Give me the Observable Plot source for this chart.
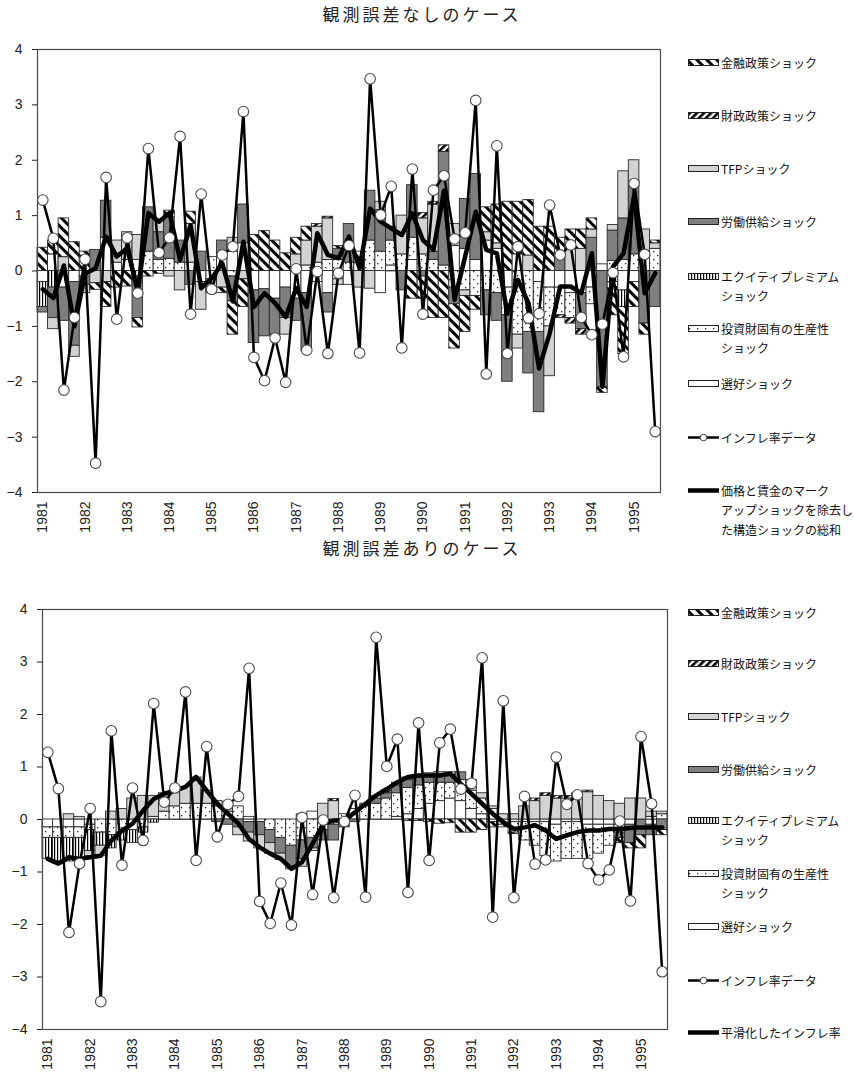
<!DOCTYPE html>
<html><head><meta charset="utf-8">
<script src="https://cdn.jsdelivr.net/npm/d3@7"></script>
<script src="https://cdn.jsdelivr.net/npm/@observablehq/plot@0.6"></script>
<style>
body{margin:0;background:#fff;}
#root{position:relative;width:854px;height:1078px;overflow:hidden;}
.title{position:absolute;left:0;width:844px;text-align:center;font-family:"Noto Sans CJK JP";font-size:17px;line-height:24px;letter-spacing:3px;color:#222;}
.plotbox{position:absolute;left:0;}
.item{position:absolute;left:688px;display:flex;align-items:flex-start;font-family:"Noto Sans CJK JP";font-size:12px;line-height:19.5px;color:#111;white-space:nowrap;}
.item svg{flex:none;margin-right:1px;}
</style></head><body>
<svg width="0" height="0" style="position:absolute">
<defs>
<pattern id="pMon" width="7" height="7" patternUnits="userSpaceOnUse" patternTransform="rotate(-45)"><rect width="7" height="7" fill="white"/><rect width="3" height="7" fill="black"/></pattern>
<pattern id="pFis" width="5" height="5" patternUnits="userSpaceOnUse" patternTransform="rotate(45)"><rect width="5" height="5" fill="white"/><rect width="2.6" height="5" fill="black"/></pattern>
<pattern id="pEq" width="3" height="3" patternUnits="userSpaceOnUse"><rect width="3" height="3" fill="white"/><rect width="1.2" height="3" fill="black"/></pattern>
<pattern id="pInv" width="8" height="8" patternUnits="userSpaceOnUse"><rect width="8" height="8" fill="white"/><rect x="1" y="1" width="1.3" height="1.3" fill="#222"/><rect x="5" y="5" width="1.3" height="1.3" fill="#222"/></pattern>
</defs></svg>
<div id="root"></div>
<script>
// ---- categories / tick labels ----
const years = [1981,1982,1983,1984,1985,1986,1987,1988,1989,1990,1991,1992,1993,1994,1995];
const quarters = [];
for (const y of years) for (const q of [1,2,3,4]) quarters.push(y + "Q" + q);
quarters.splice(59); // 1981Q1 .. 1995Q3

// ---- shared series: inflation data ----
const inflation = [1.28,0.59,-2.15,-0.84,0.21,-3.47,1.69,-0.87,0.60,-0.40,
 2.21,0.33,0.60,2.43,-0.78,1.39,-0.33,0.29,0.44,2.88,
 -1.56,-1.98,-1.21,-2.01,0.04,-1.43,-0.01,-1.49,-0.04,0.46,
 -1.48,3.47,1.01,1.53,-1.39,1.84,-0.78,1.46,1.72,0.58,
 0.69,3.08,-1.86,2.26,-1.49,0.44,-0.85,-0.77,1.19,0.29,
 0.47,-0.84,-1.15,-0.96,-0.03,-1.55,1.58,0.30,-2.90];

// ---- panel A: no measurement error ----
const prefA = [-0.2,0.3,-0.3,-0.2,-0.1,0,0.6,0.15,0.2,0.2,
 0,0,0,0,0.15,-0.2,-0.15,0.3,0.35,0.5,
 -0.35,-0.33,-0.5,-0.3,-0.5,-0.4,-0.2,-0.4,-0.15,-0.25,
 0,0,-0.4,0.1,0,0.2,0,0,0,0.45,
 0.4,0.2,0.55,0.4,-0.3,0.3,0,-0.2,-0.3,-0.3,
 -0.4,-0.4,-0.3,0.12,0,-0.35,-0.2,0,0];
const investA = [0,0,0,0,0,0,0,0,0,0,
 0.35,0.2,0.22,0.15,0,0,0.25,0,-0.1,0,
 0,0,0,0,0,0.1,0.15,0.2,0.2,0.15,
 0.15,0.55,0.35,0.45,0.3,0.4,0.3,0.2,0.1,-0.3,
 -0.35,-0.45,-0.35,-0.4,-0.5,-1.15,-1.1,-0.9,-0.7,-0.5,
 -0.45,0,-0.3,0,0.18,0.2,0.3,0.35,0.4];
const equityA = [-0.45,-0.3,0,0,0,0,0,0,0,-0.1,
 0,0,0,0,0,0,0,0,0,0,
 0,0,0,0,0,0,0,0,0,0,
 0,0,0,0,0,0,0,0,0,0,
 0,0,0,0,0,0,0,0,0,0,
 0,0,0,0,-0.2,-0.3,0,0,0];
const laborA = [-0.1,-0.55,-0.6,-1.15,-0.15,0.38,0.67,0,0,-0.75,
 0.8,0.5,0.75,0.4,-0.25,0.35,0,0.25,-0.45,0.7,
 -0.95,-0.85,-0.65,-0.55,-0.4,-1.05,0,-0.35,0.2,0.7,
 0,0.9,0.75,0.25,-0.35,0.95,-0.1,0.15,2.05,-0.3,
 0.9,1.55,-0.45,-0.5,-1.2,0,-0.75,-1.45,0,0.3,
 0,-0.65,0.6,-2.1,0.55,0.75,1.3,-0.95,-0.65];
const tfpA = [0,-0.2,0.25,-0.2,-0.15,-0.22,-0.2,0.4,0.5,0.45,
 0,0.22,-0.1,-0.35,0.7,-0.5,-0.25,-0.3,0.25,-0.15,
 0,0,0,-0.3,0.3,0.45,0.65,0.75,-0.1,0,
 -0.3,-0.32,0.15,0,0.7,0,0.65,0.85,0,0.4,
 -0.1,0,0.15,0.1,0,-0.25,0.28,0,-0.9,0,
 0.4,0.4,0.15,0,0.1,0.85,0.4,0.4,0.1];
const fiscalA = [0,0,0,0,0,0,0,0,0,0,
 0,0,0,0,0,0,0,0,0,0,
 0,0,0,0,0,0,0.05,0.03,0,0,
 0,0,0,0,0,0,0.1,0.05,0.12,0,
 0,0,0,0,0,0,0,0,0,-0.05,
 -0.1,-0.1,0,0,0,0,0,0,0];
const monetaryA = [0.42,0.25,0.7,0.52,0.35,-0.12,-0.45,-0.3,-0.28,-0.17,
 -0.1,-0.05,0.12,0,0.22,0,0,-0.1,-0.6,-0.5,
 0.65,0.72,0.55,0.32,0.3,0.25,0,0,0.05,0,
 0.2,0,0,0,0,-0.5,-0.4,-0.85,-0.85,-0.8,
 -0.65,-0.25,0.45,0.7,1.25,0.95,1.0,0.8,0.8,0.3,
 0.35,0.35,0.2,-0.1,-0.6,-0.85,-0.45,-0.2,0.05];
const structSumA = [-0.33,-0.49,0.1,-1.0,-0.05,0.05,0.62,0.26,0.41,-0.37,
 1.05,0.89,1.05,0.2,0.83,-0.31,-0.13,0.14,-0.55,0.53,
 -0.65,-0.40,-0.58,-0.83,-0.31,-0.65,0.68,0.29,0.23,0.62,
 0.05,1.13,0.89,0.77,0.65,1.04,0.56,0.38,1.45,-0.52,
 0.26,1.07,0.38,0.32,-0.77,-0.16,-0.58,-1.76,-1.13,-0.28,
 -0.28,-0.40,0.32,-2.09,0.08,0.32,1.35,-0.40,-0.04];

// ---- panel B: with measurement error ----
const prefB = [-0.15,-0.15,-0.15,-0.15,-0.1,0,0,0,0,0,
 0,0,0,0,0,0,0,0,0,-0.05,
 -0.05,0,0,0,0.1,0.15,0,0,0,0,
 0,0,0,0.05,0.1,0.2,0.3,0.35,0.4,0.35,
 0.2,0.1,-0.05,-0.1,-0.05,-0.05,-0.05,-0.05,-0.1,-0.05,
 -0.05,-0.1,-0.1,-0.1,-0.1,-0.1,0,-0.1,0];
const investB = [-0.2,-0.2,-0.2,-0.2,-0.1,-0.25,-0.3,-0.25,-0.2,-0.15,
 0.05,0.15,0.25,0.3,0.3,0.3,0.25,0.15,0.25,0.05,
 0,-0.2,-0.35,-0.5,-0.4,-0.35,-0.2,-0.1,0.1,0.2,
 0.25,0.3,0.4,0.45,0.5,0.45,0.4,0.35,0.3,0.4,
 0.35,0.3,0.2,0,-0.2,-0.35,-0.45,-0.65,-0.7,-0.7,
 -0.7,-0.65,-0.55,-0.4,-0.15,0,0,0.05,0.1];
const equityB = [-0.4,-0.45,-0.45,-0.45,-0.4,-0.25,-0.25,-0.15,-0.25,-0.1,
 -0.06,0,0,0,0,0,0,0,0,0,
 0,0,0,0,0,0,0,0,0,0,
 0,0,0,0,0,0,0,0,0,0,
 0,0,0,0,0,0,0,0,0,0,
 0,0,0,0,0,0,0,0,0];
const laborB = [0,-0.04,0,0,0,0,0,0,0,0,
 0,0,0,0,0,0,-0.05,-0.1,-0.15,-0.2,
 -0.25,-0.25,-0.3,-0.4,-0.35,-0.2,-0.2,-0.3,-0.15,-0.05,
 0.05,0.1,0.1,0.15,0.15,0.15,0.15,0.15,0.15,0.15,
 0,0,0,0,0,0,0,0,0,0,
 0,0,0,0,-0.1,-0.35,-0.3,-0.2,-0.2];
const tfpB = [0,0,0.1,0.05,-0.1,-0.2,0.15,0.2,0.4,0.45,
 0.4,0.35,0.3,0.32,0.5,0.25,0.1,0.05,-0.15,-0.17,
 -0.25,-0.2,-0.12,-0.05,-0.15,-0.05,0.3,0.35,0,0,
 0,0,0,0,0.05,0.05,0.03,0.05,0,0,
 0.2,0.1,0.05,0.1,0.1,0.25,0.35,0.45,0.4,0.4,
 0.5,0.52,0.45,0.35,0.3,0.4,0.4,0.1,0.05];
const fiscalB = [0,0,0,0,0,0,0,0,0,0,
 0,0,0,0,0,0,0,0,0,0,
 0,0,0,0,0,0,0,0.04,0,0,
 0,0.05,0.05,0.05,0,0,0,0,0.05,0,
 0,0,0,0,0,0,0.05,0.05,0.05,0.05,
 0,0.03,0,0,0,0,0,0,0];
const monetaryB = [0,0,0,0,0,0,0,0,0,0,
 0,0,0,0,0,0,0,0,0,0,
 0,0,0,0,0,0,0,0,0,0,
 0,0,0,0,-0.03,-0.03,-0.05,-0.08,-0.07,-0.25,
 -0.25,-0.2,-0.1,-0.05,-0.03,0,0,0,0,0,
 0,0,0,0,-0.1,-0.1,-0.25,0,-0.1];
const smoothedB = [-0.75,-0.84,-0.72,-0.75,-0.72,-0.69,-0.40,-0.21,-0.08,0.17,
 0.39,0.49,0.55,0.62,0.81,0.55,0.30,0.11,-0.08,-0.37,
 -0.53,-0.65,-0.75,-0.94,-0.81,-0.46,-0.08,-0.02,-0.02,0.14,
 0.30,0.46,0.58,0.71,0.81,0.84,0.84,0.84,0.87,0.68,
 0.49,0.30,0.11,-0.05,-0.18,-0.15,-0.11,-0.21,-0.37,-0.30,
 -0.24,-0.21,-0.21,-0.18,-0.18,-0.16,-0.15,-0.15,-0.15];

// ---- series names (stack order from zero outward) and legend labels ----
const shockNames = ["選好ショック","投資財固有の生産性ショック","エクイティプレミアムショック","労働供給ショック","TFPショック","財政政策ショック","金融政策ショック"];
const shockFills = ["white","url(#pInv)","url(#pEq)","#7f7f7f","#d3d3d3","url(#pFis)","url(#pMon)"];
const legendShocks = [
  ["金融政策ショック","url(#pMon)"],["財政政策ショック","url(#pFis)"],["TFPショック","#d3d3d3"],
  ["労働供給ショック","#7f7f7f"],["エクイティプレミアム<br>ショック","url(#pEq)"],
  ["投資財固有の生産性<br>ショック","url(#pInv)"],["選好ショック","white"]];

const root = document.getElementById("root");

function makePanel(cfg){
  const seriesVals = cfg.series;
  const long = [];
  quarters.forEach((q,i)=>{
    shockNames.forEach((s,k)=> long.push({q, s, v: seriesVals[k][i]}));
  });
  const infl = quarters.map((q,i)=>({q, v: inflation[i]}));
  const thick = quarters.map((q,i)=>({q, v: cfg.thick[i]}));
  const svg = Plot.plot({
    width: cfg.width, height: cfg.height,
    marginLeft: cfg.ml, marginRight: cfg.mr, marginTop: cfg.mt, marginBottom: cfg.mb,
    style: {fontFamily: "'Liberation Sans', Arial, sans-serif", fontSize: "14px", color: "#222", background: "white"},
    x: {type: "band", domain: quarters, padding: 0, label: null, tickSize: 0, tickPadding: 9, tickRotate: -90,
        ticks: quarters.filter(q => q.endsWith("Q1")), tickFormat: q => q.slice(0,4)},
    y: {domain: [-4,4], ticks: [-4,-3,-2,-1,0,1,2,3,4], tickSize: 5, tickPadding: 10, label: null},
    color: {domain: shockNames, range: shockFills},
    marks: [
      Plot.ruleY([0], {stroke: "#666", strokeWidth: 1}),
      Plot.barY(long, Plot.stackY({x: "q", y: "v", z: "s", fill: "s", stroke: "#2a2a2a", strokeWidth: 0.9})),
      Plot.line(thick, {x: "q", y: "v", stroke: "black", strokeWidth: 4.5, curve: "linear"}),
      Plot.line(infl, {x: "q", y: "v", stroke: "black", strokeWidth: 2.5}),
      Plot.dot(infl, {x: "q", y: "v", r: 5.3, fill: "white", stroke: "#4a4a4a", strokeWidth: 1.1}),
      Plot.frame({stroke: "#4a4a4a", strokeWidth: 1.2})
    ]
  });
  const box = document.createElement("div");
  box.className = "plotbox";
  box.style.top = cfg.top + "px";
  box.appendChild(svg);
  root.appendChild(box);

  const t = document.createElement("div");
  t.className = "title";
  t.style.top = cfg.titleTop + "px";
  t.textContent = cfg.title;
  root.appendChild(t);

  const ys = cfg.legendY;
  legendShocks.forEach(([label, fill], k) => {
    const d = document.createElement("div");
    d.className = "item";
    d.style.top = (ys[k] - 9.5) + "px";
    d.innerHTML = `<svg width="32" height="19"><rect x="0.5" y="6.5" width="30" height="6" fill="${fill}" stroke="#222" stroke-width="1"/></svg><span>${label}</span>`;
    root.appendChild(d);
  });
  const d1 = document.createElement("div");
  d1.className = "item"; d1.style.top = (ys[7] - 9.5) + "px";
  d1.innerHTML = `<svg width="32" height="19"><line x1="0" x2="31" y1="9.5" y2="9.5" stroke="black" stroke-width="2.5"/><circle cx="15.5" cy="9.5" r="3.3" fill="white" stroke="#444" stroke-width="1"/></svg><span>インフレ率データ</span>`;
  root.appendChild(d1);
  const d2 = document.createElement("div");
  d2.className = "item"; d2.style.top = (ys[8] - 9.5) + "px";
  d2.innerHTML = `<svg width="32" height="19"><line x1="0" x2="31" y1="9.5" y2="9.5" stroke="black" stroke-width="4.5"/></svg><span>${cfg.thickLabel}</span>`;
  root.appendChild(d2);
}

makePanel({
  title: "観測誤差なしのケース", titleTop: 2,
  top: 30, width: 670, height: 510, ml: 37, mr: 10, mt: 19, mb: 48,
  series: [prefA, investA, equityA, laborA, tfpA, fiscalA, monetaryA],
  thick: structSumA,
  thickLabel: "価格と賃金のマーク<br>アップショックを除去し<br>た構造ショックの総和",
  legendY: [62,115,168,221,276,328,383,437,490]
});
makePanel({
  title: "観測誤差ありのケース", titleTop: 536,
  top: 570, width: 680, height: 508, ml: 42, mr: 13, mt: 39, mb: 49,
  series: [prefB, investB, equityB, laborB, tfpB, fiscalB, monetaryB],
  thick: smoothedB,
  thickLabel: "平滑化したインフレ率",
  legendY: [612,663,716,769,820,873,926,980,1032]
});
</script></body></html>
